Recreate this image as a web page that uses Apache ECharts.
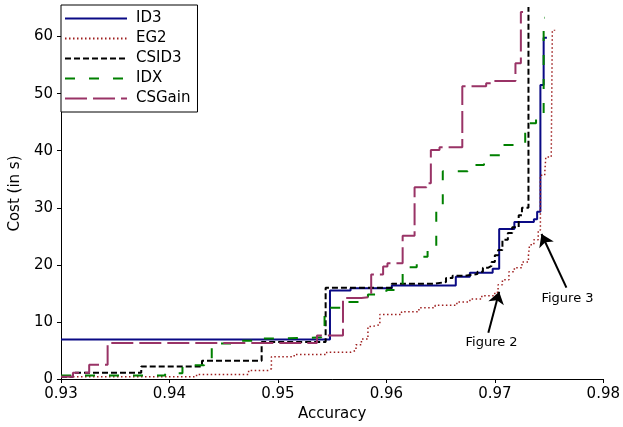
<!DOCTYPE html>
<html>
<head>
<meta charset="utf-8">
<script src="https://cdn.jsdelivr.net/npm/echarts@6/dist/echarts.min.js"></script>
<style>
  html, body { margin: 0; padding: 0; background: #fff; }
  #main { width: 623px; height: 427px; }
</style>
</head>
<body>
<div id="main"></div>
<script>
// step curves: [accuracy, cost]
var id3 = [[0.9300, 6.9], [0.9548, 15.5], [0.9567, 15.9], [0.9605, 16.4], [0.9664, 17.9], [0.9677, 18.6],
  [0.9698, 19.3], [0.9704, 26.3], [0.9718, 27.5], [0.9736, 28.0], [0.9739, 29.3], [0.9742, 51.5],
  [0.9745, 59.8], [0.9748, 59.8]]
var eg2 = [[0.9300, 0.4], [0.9425, 0.8], [0.9473, 1.5], [0.9491, 1.8], [0.9494, 3.9], [0.9515, 4.3],
  [0.9545, 4.7], [0.9567, 5.0], [0.9572, 6.0], [0.9577, 7.0], [0.9583, 9.2], [0.9587, 9.5],
  [0.9594, 11.3], [0.9614, 11.8], [0.9630, 12.5], [0.9645, 12.9], [0.9665, 13.5], [0.9677, 14.0],
  [0.9688, 14.6], [0.9700, 15.2], [0.9703, 16.5], [0.9707, 17.4], [0.9713, 18.8], [0.9718, 19.5],
  [0.9725, 20.5], [0.9731, 21.7], [0.9732, 23.5], [0.9736, 24.4], [0.9740, 26.1], [0.9742, 35.7],
  [0.9746, 36.1], [0.9747, 38.9], [0.9752, 39.1], [0.9753, 61.0], [0.9755, 61.2]]
var csid3 = [[0.9300, 0.4], [0.9311, 1.1], [0.9374, 2.2], [0.9430, 3.2], [0.9485, 6.5], [0.9544, 16.0],
  [0.9605, 16.7], [0.9645, 17.0], [0.9655, 17.7], [0.9661, 18.1], [0.9673, 18.4], [0.9684, 18.8],
  [0.9689, 19.5], [0.9694, 19.8], [0.9697, 20.5], [0.9700, 21.7], [0.9703, 22.6], [0.9707, 24.4],
  [0.9712, 25.6], [0.9716, 26.6], [0.9722, 28.7], [0.9725, 30.0], [0.9731, 66]]
var idx = [[0.9300, 0.6], [0.9396, 1.0], [0.9412, 2.4], [0.9432, 3.2], [0.9439, 6.2], [0.9459, 6.7],
  [0.9481, 7.1], [0.9506, 7.3], [0.9540, 8.3], [0.9543, 12.5], [0.9563, 13.5], [0.9583, 14.8],
  [0.9600, 15.6], [0.9615, 19.6], [0.9628, 21.4], [0.9638, 22.6], [0.9646, 30.1], [0.9652, 36.4],
  [0.9675, 37.5], [0.9690, 39.2], [0.9705, 41.0], [0.9728, 44.8], [0.9738, 45.9], [0.9745, 63.3],
  [0.9746, 63.3]]
var csgain = [[0.9300, 0.4], [0.9311, 1.1], [0.9326, 2.5], [0.9343, 6.3], [0.9536, 7.6], [0.9560, 14.2],
  [0.9577, 14.4], [0.9586, 18.3], [0.9597, 19.7], [0.9601, 20.3], [0.9615, 25.1], [0.9626, 33.6],
  [0.9637, 34.3], [0.9641, 40.1], [0.9649, 40.6], [0.9670, 51.3], [0.9692, 51.8], [0.9698, 52.2],
  [0.9719, 55.3], [0.9724, 64.3], [0.9726, 64.3]]

var xTicks = [0.93, 0.94, 0.95, 0.96, 0.97, 0.98]
var yTicks = [0, 10, 20, 30, 40, 50, 60]

// annotations: arrow [from, to] and text anchor
var fig2Arrow = [[0.9694, 8.1], [0.9704, 15.3]]
var fig3Arrow = [[0.9766, 16.0], [0.9743, 25.4]]
var fig2Text = [0.9697, 6.4]
var fig3Text = [0.9767, 14.1]

var chart = echarts.init(document.getElementById('main'), null, { renderer: 'canvas' })

var font = 'DejaVu Sans'
function stepLine(name, data, color, type, width) {
  return {
    name: name,
    type: 'line',
    step: 'end',
    data: data,
    symbol: 'none',
    clip: true,
    silent: true,
    animation: false,
    itemStyle: { color: color },
    lineStyle: { color: color, width: width, type: type }
  }
}

var option = {
  animation: false,
  textStyle: { fontFamily: font },
  grid: { left: 51, right: 17, top: 8, bottom: 48 },
  legend: {
    orient: 'vertical',
    left: 61,
    top: 5,
    padding: [6, 7, 6, 3],
    itemWidth: 62,
    itemHeight: 14,
    itemGap: 5,
    backgroundColor: '#fff',
    borderColor: '#000',
    borderWidth: 1,
    borderRadius: 0,
    selectedMode: false,
    itemStyle: { opacity: 0 },
    data: ['ID3', 'EG2', 'CSID3', 'IDX', 'CSGain'],
    textStyle: { fontFamily: font, fontSize: 15, color: '#000', padding: [0, 0, 0, 4] }
  },
  xAxis: {
    type: 'value',
    min: 0.93,
    max: 0.98,
    interval: 0.01,
    name: 'Accuracy',
    nameLocation: 'middle',
    nameGap: 27,
    nameTextStyle: { fontFamily: font, fontSize: 15, color: '#000' },
    axisLine: { lineStyle: { color: '#000', width: 1 } },
    axisTick: { length: 4, lineStyle: { color: '#000' } },
    axisLabel: {
      fontFamily: font, fontSize: 15, color: '#000', margin: 8,
      formatter: function (v) { return v.toFixed(2) }
    },
    splitLine: { show: false }
  },
  yAxis: {
    type: 'value',
    min: 0,
    max: 65,
    interval: 10,
    name: 'Cost (in s)',
    nameLocation: 'middle',
    nameGap: 29,
    nameTextStyle: { fontFamily: font, fontSize: 15, color: '#000' },
    axisLine: { show: true, lineStyle: { color: '#000', width: 1 } },
    axisTick: { show: true, length: 4, lineStyle: { color: '#000' }, customValues: yTicks },
    axisLabel: { fontFamily: font, fontSize: 15, color: '#000', margin: 8, customValues: yTicks },
    splitLine: { show: false }
  },
  series: [
    stepLine('ID3', id3, '#0a0a85', 'solid', 2),
    stepLine('EG2', eg2, '#9e1f1f', [1.5, 2.5], 1.5),
    stepLine('CSID3', csid3, '#000000', [6, 3], 2),
    stepLine('IDX', idx, '#008000', [10, 14], 2),
    stepLine('CSGain', csgain, '#993366', [22, 6], 2),
    {
      name: 'annot',
      type: 'line',
      data: [],
      silent: true,
      markLine: {
        silent: true,
        animation: false,
        symbol: ['none', 'arrow'],
        symbolSize: 12,
        label: { show: false },
        lineStyle: { color: '#000', width: 2, type: 'solid' },
        data: [
          [{ coord: fig2Arrow[0] }, { coord: fig2Arrow[1] }],
          [{ coord: fig3Arrow[0] }, { coord: fig3Arrow[1] }]
        ]
      },
      markPoint: {
        silent: true,
        animation: false,
        symbol: 'rect',
        symbolSize: 1,
        itemStyle: { color: 'rgba(0,0,0,0)' },
        label: { show: true, position: 'inside', formatter: '{b}', fontFamily: font, fontSize: 13, color: '#000' },
        data: [
          { name: 'Figure 2', coord: fig2Text },
          { name: 'Figure 3', coord: fig3Text }
        ]
      }
    }
  ]
}
chart.setOption(option)
</script>
</body>
</html>
